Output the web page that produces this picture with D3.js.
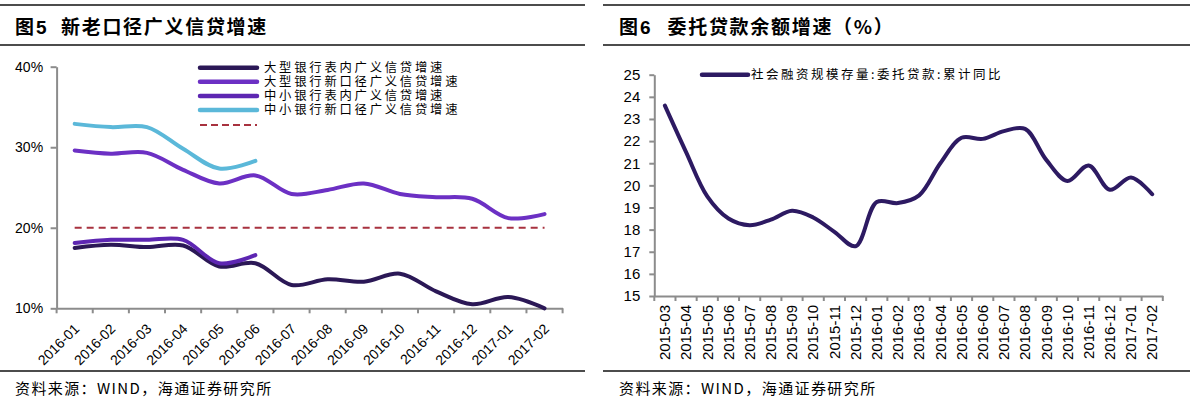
<!DOCTYPE html>
<html><head><meta charset="utf-8">
<script src="https://cdn.jsdelivr.net/npm/d3@7"></script>
<style>
body{margin:0;background:#fff;}
svg{display:block;}
text{font-family:"Liberation Sans",Arial,sans-serif;fill:#000;}
.cjk{font-family:"Noto Sans CJK SC",sans-serif;}
</style></head><body>
<svg id="c" width="1195" height="401"></svg>
<script>
// ---------- data ----------
const leftCategories = ["2016-01","2016-02","2016-03","2016-04","2016-05","2016-06","2016-07","2016-08","2016-09","2016-10","2016-11","2016-12","2017-01","2017-02"];
const bigBankOnBalance   = [17.5,17.9,17.6,17.8,15.2,15.6,12.9,13.6,13.3,14.3,12.1,10.5,11.4,10.0];
const bigBankNewCaliber  = [29.6,29.2,29.3,27.2,25.5,26.5,24.2,24.7,25.5,24.2,23.8,23.6,21.2,21.7];
const smallBankOnBalance = [18.1,18.5,18.5,18.5,15.6,16.6,null,null,null,null,null,null,null,null];
const smallBankNewCaliber= [32.9,32.5,32.5,29.8,27.35,28.3,null,null,null,null,null,null,null,null];
const referenceLevel = 20;
const leftTicks = [10,20,30,40];
const leftLegend = ["大型银行表内广义信贷增速","大型银行新口径广义信贷增速","中小银行表内广义信贷增速","中小银行新口径广义信贷增速"];

const rightCategories = ["2015-03","2015-04","2015-05","2015-06","2015-07","2015-08","2015-09","2015-10","2015-11","2015-12","2016-01","2016-02","2016-03","2016-04","2016-05","2016-06","2016-07","2016-08","2016-09","2016-10","2016-11","2016-12","2017-01","2017-02"];
const entrustedLoanGrowth = [23.6,21.5,19.5,18.5,18.2,18.45,18.85,18.55,17.9,17.25,19.25,19.2,19.55,21.0,22.15,22.1,22.45,22.55,21.15,20.2,20.9,19.8,20.35,19.6];
const rightTicks = [15,16,17,18,19,20,21,22,23,24,25];
const rightLegend = "社会融资规模存量:委托贷款:累计同比";

// ---------- drawing ----------
const svg = d3.select("#c");
const axisGrey = "#8c8c8c";

function rules(x0, x1) {
  [5, 45, 371].forEach(y => svg.append("line").attr("x1", x0).attr("x2", x1)
    .attr("y1", y).attr("y2", y).attr("stroke", "#111").attr("stroke-width", 1.5));
}
function title(x, num, xText, txt) {
  svg.append("text").attr("class","cjk").attr("x", x).attr("y", 33.5)
    .attr("font-size", 19).attr("font-weight", 700).text("图");
  svg.append("text").attr("x", x + 21).attr("y", 33.5)
    .attr("font-size", 19).attr("font-weight", 700).text(num);
  svg.append("text").attr("class","cjk").attr("x", xText).attr("y", 33.5)
    .attr("font-size", 19).attr("font-weight", 700).attr("letter-spacing", 1.7).text(txt);
}
function footer(x) {
  svg.append("text").attr("class","cjk").attr("x", x).attr("y", 394)
    .attr("font-size", 15).attr("letter-spacing", 1.4).attr("fill", "#222")
    .text("资料来源：WIND，海通证券研究所");
}

// ===== Left panel =====
rules(0, 585);
title(15, "5", 61, "新老口径广义信贷增速");
footer(15);

const xL = d3.scaleBand().domain(leftCategories).range([56.6, 562.6]);
const yL = d3.scaleLinear().domain([10, 40]).range([308.3, 66.7]);

const gyL = svg.append("g").attr("transform", "translate(56.6,0)")
  .call(d3.axisLeft(yL).tickValues(leftTicks).tickFormat(d => d + "%").tickSize(6).tickPadding(7.5).tickSizeOuter(0));
gyL.selectAll("text").attr("font-size", 14);
const gxL = svg.append("g").attr("transform", "translate(0,308.3)")
  .call(d3.axisBottom(xL).tickSize(0).tickSizeOuter(0));
gxL.selectAll("text").attr("font-size", 14).attr("text-anchor", "end")
  .attr("y", 0).attr("dy", "0.35em").attr("transform", "translate(2,18) rotate(-45)");
// boundary ticks
const bL = leftCategories.map(c => xL(c)).concat([xL.range()[1]]);
gxL.selectAll("line.bt").data(bL).enter().append("line").attr("class","bt")
  .attr("x1", d => d).attr("x2", d => d).attr("y1", 0).attr("y2", 5).attr("stroke", axisGrey).attr("stroke-width", 2);
[gyL, gxL].forEach(g => {
  g.select(".domain").attr("stroke", axisGrey).attr("stroke-width", 2);
  g.selectAll(".tick line").attr("stroke", axisGrey).attr("stroke-width", 2);
});

const lineL = d3.line().defined(d => d[1] != null)
  .x(d => xL(d[0]) + xL.bandwidth() / 2).y(d => yL(d[1])).curve(d3.curveCatmullRom);
const leftSeries = [
  {v: bigBankOnBalance, c: "#2b1856"},
  {v: bigBankNewCaliber, c: "#6c30c4"},
  {v: smallBankOnBalance, c: "#5d26b2"},
  {v: smallBankNewCaliber, c: "#5bb8d9"}
];
// dashed reference
svg.append("line")
  .attr("x1", xL(leftCategories[0]) + xL.bandwidth()/2)
  .attr("x2", xL(leftCategories[leftCategories.length-1]) + xL.bandwidth()/2)
  .attr("y1", yL(referenceLevel)).attr("y2", yL(referenceLevel))
  .attr("stroke", "#a8323f").attr("stroke-width", 2).attr("stroke-dasharray", "7,5");
leftSeries.forEach(s => {
  svg.append("path").datum(leftCategories.map((c, i) => [c, s.v[i]]))
    .attr("d", lineL).attr("fill", "none").attr("stroke", s.c)
    .attr("stroke-width", 4).attr("stroke-linecap", "round");
});
// legend
const legY = [67.7, 81.7, 96, 110];
leftLegend.forEach((t, i) => {
  svg.append("line").attr("x1", 200).attr("x2", 257).attr("y1", legY[i]).attr("y2", legY[i])
    .attr("stroke", leftSeries[i].c).attr("stroke-width", 4.5).attr("stroke-linecap", "round");
  svg.append("text").attr("class","cjk").attr("x", 264).attr("y", legY[i] + 4.3)
    .attr("font-size", 12.3).attr("letter-spacing", 2.8).attr("fill", "#222").text(t);
});
svg.append("line").attr("x1", 200).attr("x2", 257).attr("y1", 125).attr("y2", 125)
  .attr("stroke", "#a8323f").attr("stroke-width", 2).attr("stroke-dasharray", "7,4");

// ===== Right panel =====
rules(603, 1190);
title(619, "6", 667.5, "委托贷款余额增速（%）");
footer(619);

const xR = d3.scaleBand().domain(rightCategories).range([654.3, 1162.8]);
const yR = d3.scaleLinear().domain([15, 25]).range([296, 74.7]);

const gyR = svg.append("g").attr("transform", "translate(654.3,0)")
  .call(d3.axisLeft(yR).tickValues(rightTicks).tickFormat(d3.format("d")).tickSize(5).tickPadding(9).tickSizeOuter(0));
gyR.selectAll("text").attr("font-size", 15);
const gxR = svg.append("g").attr("transform", "translate(0,296)")
  .call(d3.axisBottom(xR).tickSize(0).tickSizeOuter(0));
gxR.selectAll("text").attr("font-size", 15).attr("text-anchor", "end")
  .attr("y", 0).attr("dy", "0.35em").attr("transform", "translate(0,9) rotate(-90)");
const bR = rightCategories.map(c => xR(c)).concat([xR.range()[1]]);
gxR.selectAll("line.bt").data(bR).enter().append("line").attr("class","bt")
  .attr("x1", d => d).attr("x2", d => d).attr("y1", 0).attr("y2", 5).attr("stroke", axisGrey).attr("stroke-width", 2);
[gyR, gxR].forEach(g => {
  g.select(".domain").attr("stroke", axisGrey).attr("stroke-width", 2);
  g.selectAll(".tick line").attr("stroke", axisGrey).attr("stroke-width", 2);
});

const lineR = d3.line().x(d => xR(d[0]) + xR.bandwidth() / 2).y(d => yR(d[1])).curve(d3.curveCatmullRom);
svg.append("path").datum(rightCategories.map((c, i) => [c, entrustedLoanGrowth[i]]))
  .attr("d", lineR).attr("fill", "none").attr("stroke", "#2d1a62")
  .attr("stroke-width", 4).attr("stroke-linecap", "round");
svg.append("line").attr("x1", 702).attr("x2", 748).attr("y1", 74.7).attr("y2", 74.7)
  .attr("stroke", "#2d1a62").attr("stroke-width", 4.5).attr("stroke-linecap", "round");
svg.append("text").attr("class","cjk").attr("x", 751).attr("y", 79)
  .attr("font-size", 12.5).attr("letter-spacing", 2.5).attr("fill", "#222").text(rightLegend);
</script>
</body></html>
